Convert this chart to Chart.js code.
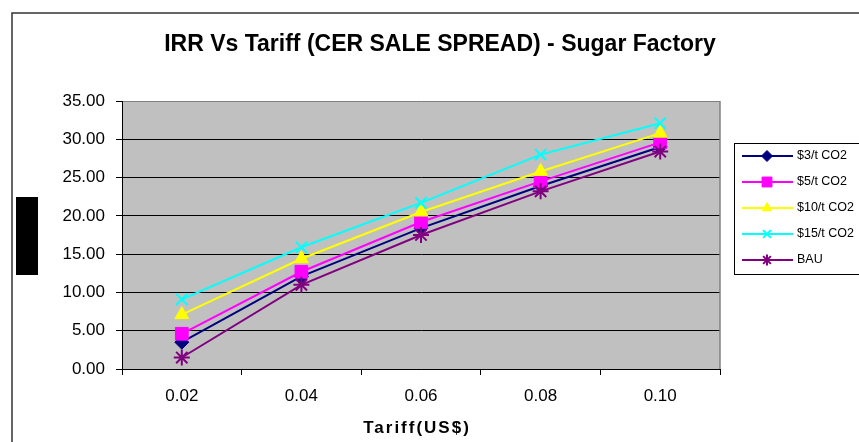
<!DOCTYPE html>
<html>
<head>
<meta charset="utf-8">
<script src="https://cdn.jsdelivr.net/npm/chart.js@4/dist/chart.umd.min.js"></script>
<style>
  html, body { margin: 0; padding: 0; background: #fff; }
</style>
</head>
<body>
<canvas id="irrChart" width="859" height="442"></canvas>
<script>
// tariff categories (US$)
const tariffs = ['0.02', '0.04', '0.06', '0.08', '0.10'];

// IRR values
const irr3 = [3.5, 12.1, 18.4, 23.9, 29.0];
const irr5 = [4.6, 12.7, 19.2, 24.5, 29.6];
const irr10 = [7.1, 14.4, 20.5, 25.8, 30.8];
const irr15 = [9.1, 15.9, 21.7, 28.0, 32.1];
const irrBau = [1.5, 11.0, 17.5, 23.2, 28.4];

const seriesNames = ['$3/t CO2', '$5/t CO2', '$10/t CO2', '$15/t CO2', 'BAU'];
const seriesColors = ['#000080', '#FF00FF', '#FFFF00', '#00FFFF', '#800080'];
const seriesPoints = ['rectRot', 'rect', 'triangle', 'crossRot', 'star'];
const seriesRadius = [7, 9, 8, 8, 8];

const yMin = 0, yMax = 35, yStep = 5;

const allSeries = [irr3, irr5, irr10, irr15, irrBau];

const datasets = allSeries.map((vals, i) => ({
  label: seriesNames[i],
  data: vals,
  borderColor: seriesColors[i],
  backgroundColor: seriesColors[i],
  pointBackgroundColor: seriesColors[i],
  pointBorderColor: seriesColors[i],
  pointStyle: seriesPoints[i],
  pointRadius: seriesRadius[i],
  pointBorderWidth: (seriesPoints[i] === 'crossRot' || seriesPoints[i] === 'star') ? 2 : 1,
  borderWidth: 2,
  tension: 0,
  fill: false,
  order: allSeries.length - i
}));

// draws the pieces excel put outside the plot area
const frame = {
  id: 'frame',
  beforeDraw(chart) {
    const ctx = chart.ctx;
    const a = chart.chartArea;
    ctx.save();
    ctx.fillStyle = '#fff';
    ctx.fillRect(0, 0, chart.width, chart.height);
    ctx.strokeStyle = '#333';
    ctx.lineWidth = 1.5;
    ctx.strokeRect(12, 13, 1000, 600);
    ctx.fillStyle = '#C0C0C0';
    ctx.fillRect(a.left, a.top, a.right - a.left, a.bottom - a.top);
    ctx.restore();
  },
  afterDraw(chart) {
    const ctx = chart.ctx;
    const a = chart.chartArea;
    ctx.save();

    // plot border right side
    ctx.strokeStyle = '#808080';
    ctx.lineWidth = 1.5;
    ctx.beginPath();
    ctx.moveTo(a.right, a.top);
    ctx.lineTo(a.right, a.bottom);
    ctx.stroke();

    // title
    ctx.fillStyle = '#000';
    ctx.font = 'bold 23px Arial, "Liberation Sans", sans-serif';
    ctx.textAlign = 'center';
    ctx.textBaseline = 'alphabetic';
    ctx.fillText('IRR Vs Tariff (CER SALE SPREAD) - Sugar Factory', 440, 51);

    // x axis title
    ctx.font = 'bold 17px Arial, "Liberation Sans", sans-serif';
    if ('letterSpacing' in ctx) ctx.letterSpacing = '2px';
    ctx.textBaseline = 'middle';
    ctx.fillText('Tariff(US$)', 417, 428);
    if ('letterSpacing' in ctx) ctx.letterSpacing = '0px';

    // black block where the y title sits
    ctx.fillStyle = '#000';
    ctx.fillRect(16, 197, 22, 78);

    // legend
    ctx.fillStyle = '#fff';
    ctx.fillRect(734, 143, 130, 132);
    ctx.strokeStyle = '#000';
    ctx.lineWidth = 1;
    ctx.strokeRect(734.5, 143.5, 130, 131);
    ctx.font = '12.5px Arial, "Liberation Sans", sans-serif';
    ctx.textAlign = 'left';
    ctx.textBaseline = 'middle';
    chart.data.datasets.forEach((ds, i) => {
      const y = 156 + i * 26;
      ctx.strokeStyle = ds.borderColor;
      ctx.lineWidth = 2;
      ctx.beginPath();
      ctx.moveTo(742, y);
      ctx.lineTo(793, y);
      ctx.stroke();
      ctx.fillStyle = ds.pointBackgroundColor;
      ctx.strokeStyle = ds.pointBorderColor;
      ctx.lineWidth = ds.pointBorderWidth;
      Chart.helpers.drawPoint(ctx, {
        pointStyle: ds.pointStyle,
        rotation: 0,
        radius: ds.pointStyle === 'rect' ? 7 : 5.5,
        borderWidth: ds.pointBorderWidth
      }, 767, y);
      ctx.fillStyle = '#000';
      ctx.fillText(ds.label, 797, y);
    });

    ctx.restore();
  }
};

new Chart(document.getElementById('irrChart'), {
  type: 'line',
  data: { labels: tariffs, datasets },
  options: {
    responsive: false,
    animation: false,
    devicePixelRatio: 1,
    layout: { padding: { top: 101, right: 139, bottom: 0, left: 0 } },
    plugins: {
      legend: { display: false },
      title: { display: false },
      tooltip: { enabled: false }
    },
    scales: {
      x: {
        offset: true,
        grid: {
          offset: true,
          drawOnChartArea: false,
          drawTicks: true,
          tickLength: 6,
          color: '#000'
        },
        border: { color: '#000', width: 1 },
        ticks: {
          color: '#000',
          padding: 11,
          maxRotation: 0,
          font: { family: 'Arial, "Liberation Sans", sans-serif', size: 17 }
        },
        afterFit(scale) { scale.height = 73; }
      },
      y: {
        min: yMin,
        max: yMax,
        grid: {
          color: ctx => (ctx.tick && ctx.tick.value === yMax) ? '#808080' : '#000',
          tickColor: '#000',
          tickLength: 6,
          lineWidth: 1
        },
        border: { color: '#000', width: 1 },
        ticks: {
          stepSize: yStep,
          color: '#000',
          padding: 11,
          font: { family: 'Arial, "Liberation Sans", sans-serif', size: 17 },
          callback: v => Number(v).toFixed(2)
        },
        afterFit(scale) { scale.width = 122; }
      }
    }
  },
  plugins: [frame]
});
</script>
</body>
</html>
